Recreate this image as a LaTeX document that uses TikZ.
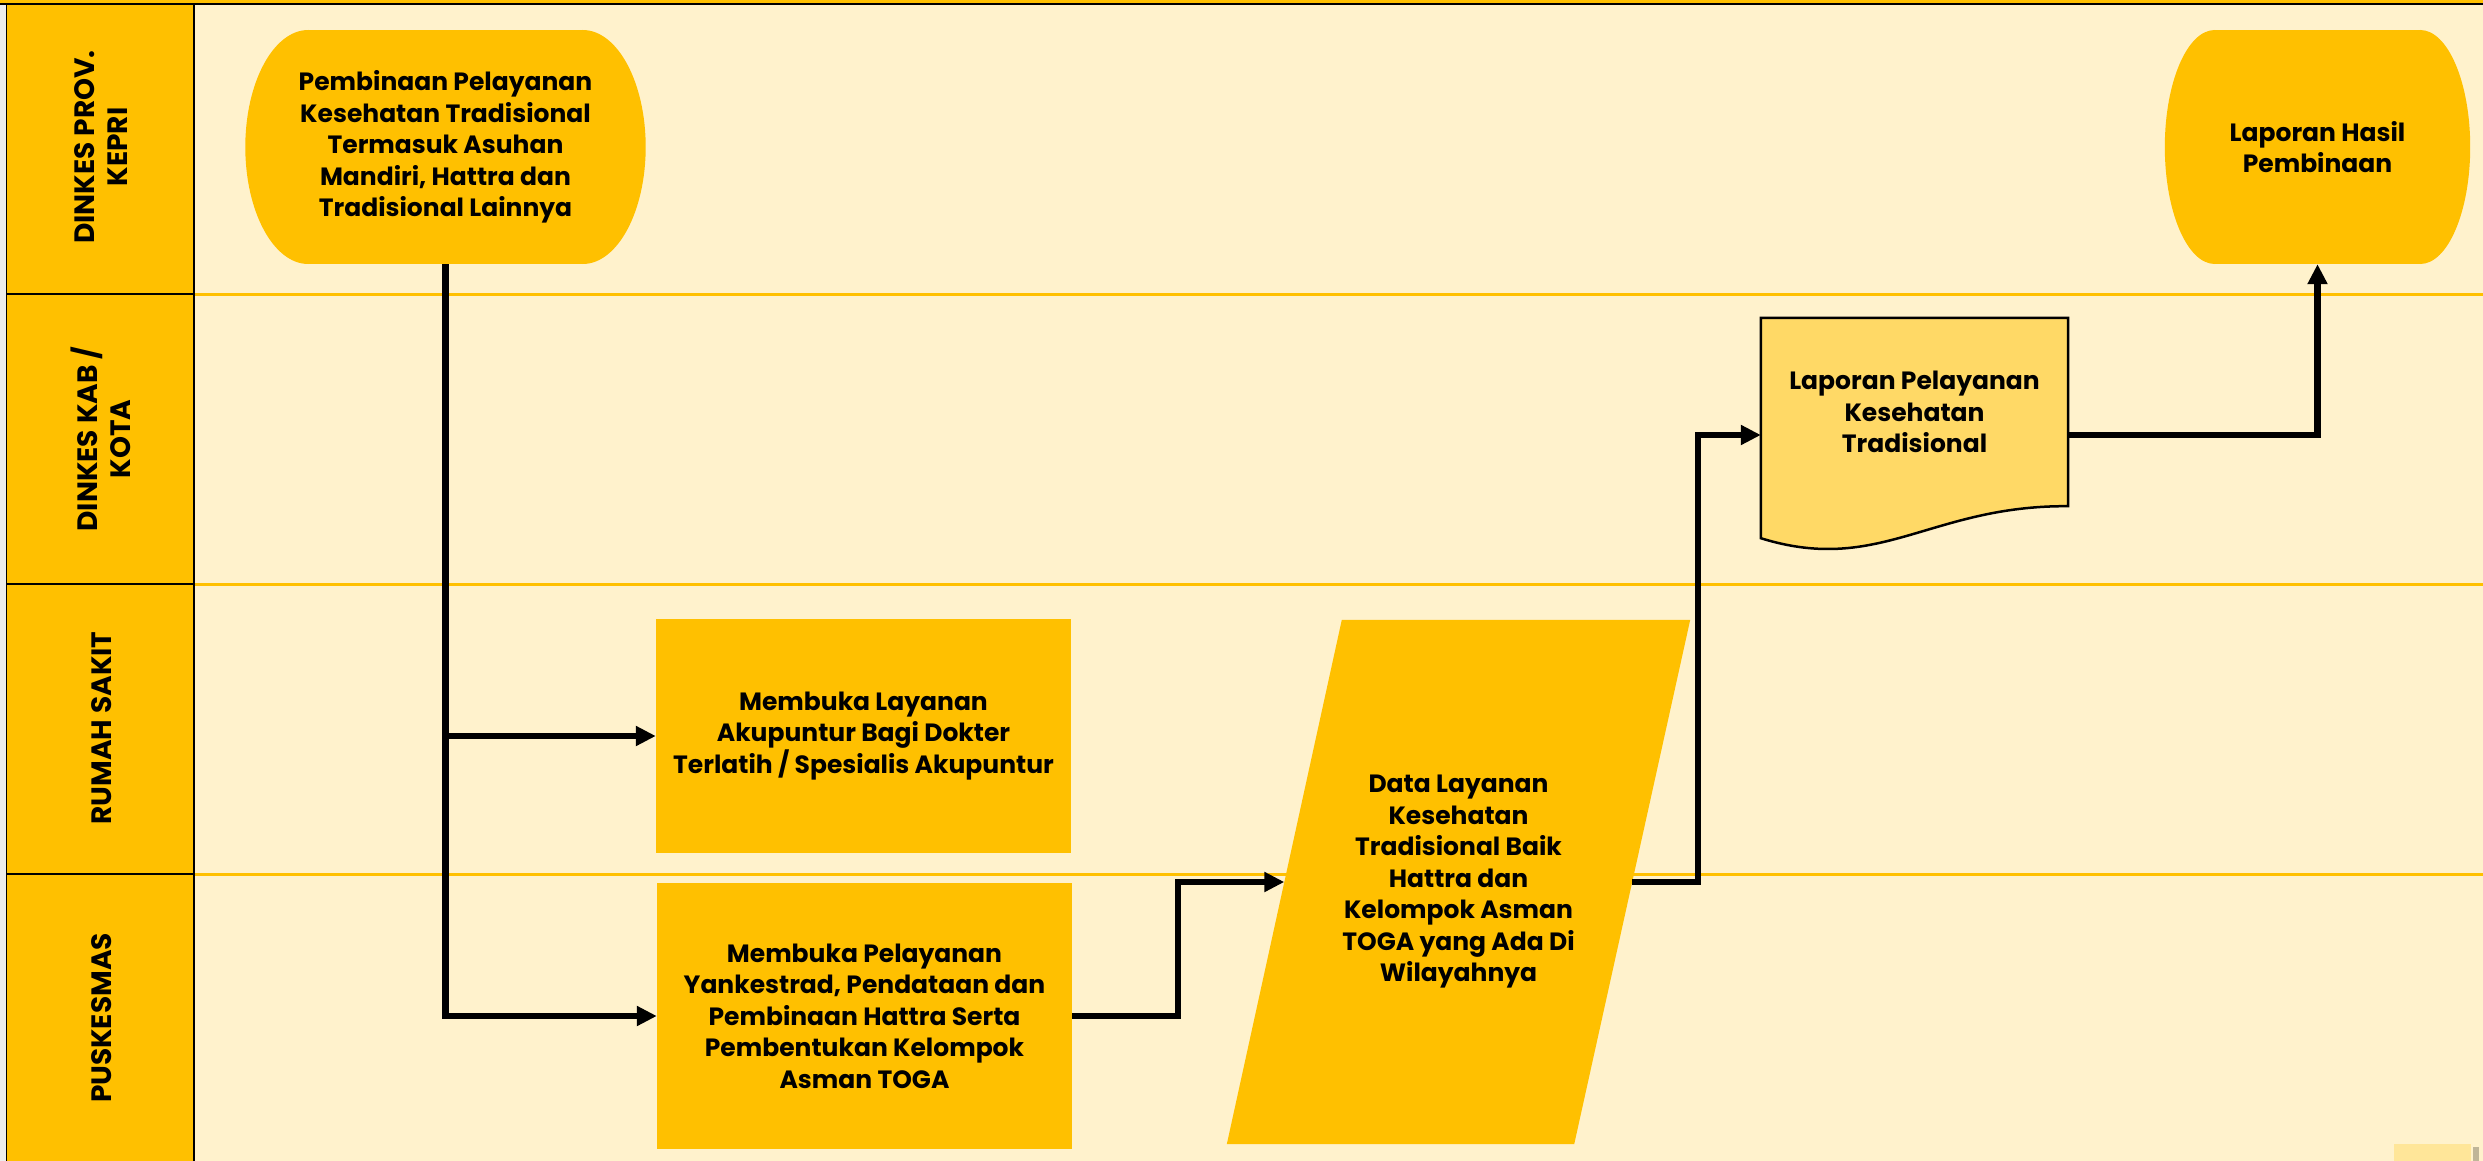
\documentclass[tikz,border=0pt]{standalone}
\usepackage{fontspec}
\setmainfont{Poppins}
\usetikzlibrary{arrows.meta,calc,backgrounds}
\definecolor{gold}{HTML}{FFC000}
\definecolor{lanebg}{HTML}{FFF2CC}
\definecolor{docfill}{HTML}{FFD966}
\definecolor{notefill}{HTML}{FFE699}
\begin{document}
\begin{tikzpicture}[x=1pt,y=-1pt,
  txt/.style={font=\fontsize{25}{31.5}\selectfont\bfseries, align=center, inner sep=0pt, text=black},
  procbox/.style={txt, fill=gold, minimum width=415pt},
  termbox/.style={txt, minimum height=234pt},
  lanehdr/.style={font=\fontsize{28}{33}\selectfont\bfseries, align=center, rotate=90, inner sep=0pt},
  conn/.style={line width=6.5pt, -{Triangle[length=20pt,width=19pt]}},
  laneline/.style={draw=gold, line width=3pt},
  hdrline/.style={draw=black, line width=2.5pt}
]
\useasboundingbox (0,0) rectangle (2483,1161);
\begin{pgfonlayer}{background}
  \fill[lanebg] (194,4) rectangle (2483,1161);
  \fill[gold] (7,4) rectangle (194,1161);
  \fill[black!7] (0,0) rectangle (6,1161);
  \fill[gold] (0,0) rectangle (2483,3);
  \draw[laneline] (194,294) -- (2483,294);
  \draw[laneline] (194,584) -- (2483,584);
  \draw[laneline] (194,874) -- (2483,874);
  \draw[hdrline] (6,294) -- (194,294);
  \draw[hdrline] (6,584) -- (194,584);
  \draw[hdrline] (6,874) -- (194,874);
  \draw[hdrline] (194,4) -- (194,1161);
  \draw[black, line width=1.5pt] (6.5,4) -- (6.5,1161);
  \draw[hdrline] (0,4) -- (2483,4);
  \fill[black,opacity=0.25] (2473,1147) rectangle (2479,1161);
  \fill[notefill] (2394,1144) rectangle (2471,1161);
\end{pgfonlayer}

% lane headers
\node[lanehdr] (h1) at (101,147) {DINKES PROV.\\KEPRI};
\node[lanehdr] (h2) at (101,439) {DINKES KAB /\\KOTA};
\node[lanehdr] (h3) at (102,728) {RUMAH SAKIT};
\node[lanehdr] (h4) at (102,1018) {PUSKESMAS};

% nodes
\node[termbox, minimum width=400pt] (start) at (445.5,147)
  {Pembinaan Pelayanan\\Kesehatan Tradisional\\Termasuk Asuhan\\Mandiri, Hattra dan\\Tradisional Lainnya};
\node[termbox, minimum width=305pt] (fin) at (2317.5,147) {Laporan Hasil\\Pembinaan};
\node[procbox, minimum height=234pt] (rs) at (863.5,736)
  {Membuka Layanan\\Akupuntur Bagi Dokter\\Terlatih / Spesialis Akupuntur};
\node[procbox, minimum height=266pt] (pk) at (864.5,1016)
  {Membuka Pelayanan\\Yankestrad, Pendataan dan\\Pembinaan Hattra Serta\\Pembentukan Kelompok\\Asman TOGA};
\node[txt, minimum width=463pt, minimum height=524pt] (data) at (1458.5,882)
  {Data Layanan\\Kesehatan\\Tradisional Baik\\Hattra dan\\Kelompok Asman\\TOGA yang Ada Di\\Wilayahnya};
\node[txt, minimum width=307pt, minimum height=188pt] (doc) at (1914.5,412)
  {Laporan Pelayanan\\Kesehatan\\Tradisional};

% shape bodies
\begin{pgfonlayer}{background}
  \fill[gold] ($(start.west)+(63,0)$) ellipse [x radius=63, y radius=117];
  \fill[gold] ($(start.east)+(-63,0)$) ellipse [x radius=63, y radius=117];
  \fill[gold] ($(start.north west)+(63,0)$) rectangle ($(start.south east)+(-63,0)$);
  \fill[gold] ($(fin.west)+(50,0)$) ellipse [x radius=50, y radius=117];
  \fill[gold] ($(fin.east)+(-50,0)$) ellipse [x radius=50, y radius=117];
  \fill[gold] ($(fin.north west)+(50,0)$) rectangle ($(fin.south east)+(-50,0)$);
  \fill[gold] ($(data.north west)+(115,0)$) -- (data.north east)
     -- ($(data.south east)+(-116,0)$) -- (data.south west) -- cycle;
  \filldraw[fill=docfill, draw=black, line width=2.5pt] (doc.north west) -- (doc.north east)
     -- (doc.south east) .. controls ($(doc.south east)+(-138,-1)$) and ($(doc.south west)+(119,69)$)
     .. ($(doc.south west)+(0,32)$) -- cycle;
\end{pgfonlayer}

% connector ends
\coordinate (dataL) at ($(data.west)+(57.5,0)$);
\coordinate (dataR) at ($(data.east)+(-58,0)$);
\coordinate (docIn) at ($(doc.west)+(0,23)$);
\coordinate (docOut) at ($(doc.east)+(0,23)$);

% connectors
\draw[conn] (start.south) |- (pk.west);
\draw[conn] (start.south |- rs.west) -- (rs.west);
\draw[conn] (pk.east) -- ++(106,0) |- (dataL);
\draw[conn] (dataR) -- ++(66,0) |- (docIn);
\draw[conn] (docOut) -| (fin.south);
\end{tikzpicture}
\end{document}
